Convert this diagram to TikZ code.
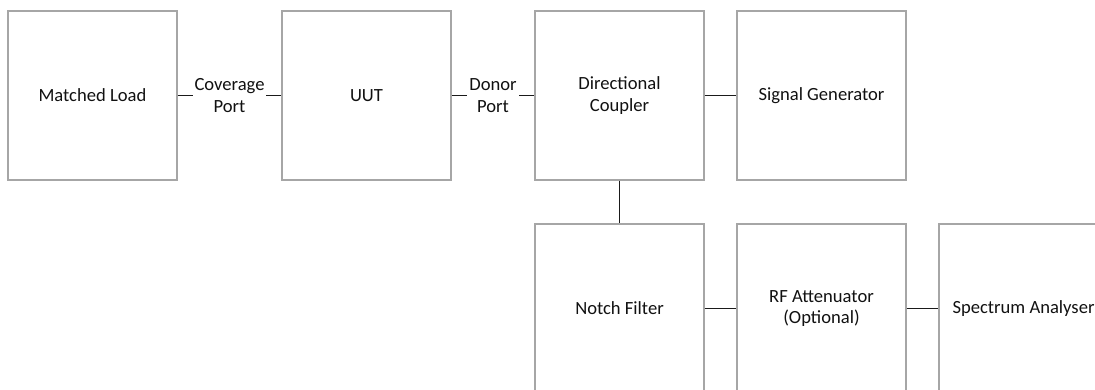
\documentclass[tikz,border=0pt]{standalone}
\usepackage{fontspec}
\setmainfont{Carlito}
\definecolor{boxline}{HTML}{A6A6A6}
\definecolor{wire}{HTML}{1A1A1A}
\definecolor{ink}{HTML}{111111}
\begin{document}
\begin{tikzpicture}[x=1pt,y=-1pt,
  every node/.style={font=\fontsize{18.6}{21.7}\selectfont, text=ink},
  block/.style={draw=boxline, line width=1.2pt, minimum width=169pt, minimum height=169pt,
    inner sep=0pt, align=center},
  wirestyle/.style={draw=wire, line width=1.5pt},
  portlabel/.style={fill=white, inner xsep=2pt, inner ysep=1pt, align=center}]
  \useasboundingbox (0,0) rectangle (1095,389);
  \clip (0,0) rectangle (1095,389);

  % top row
  \node[block] (load) at (92.5,95.5) {Matched Load};
  \node[block] (uut) at (366.5,95.5) {UUT};
  \node[block] (coupler) at (619.5,95.5) {Directional\\Coupler};
  \node[block] (siggen) at (821.5,95.5) {Signal Generator};

  % bottom row
  \node[block] (notch) at (619.5,308.5) {Notch Filter};
  \node[block] (atten) at (821.5,308.5) {RF Attenuator\\(Optional)};
  \node[block] (spec) at (1023.5,308.5) {Spectrum Analyser};

  % connections
  \draw[wirestyle] (load.east) -- node[portlabel] {Coverage\\Port} (uut.west);
  \draw[wirestyle] (uut.east) -- node[portlabel] {Donor\\Port} (coupler.west);
  \draw[wirestyle] (coupler.east) -- (siggen.west);
  \draw[wirestyle] (coupler.south) -- (notch.north);
  \draw[wirestyle] (notch.east) -- (atten.west);
  \draw[wirestyle] (atten.east) -- (spec.west);
\end{tikzpicture}
\end{document}
